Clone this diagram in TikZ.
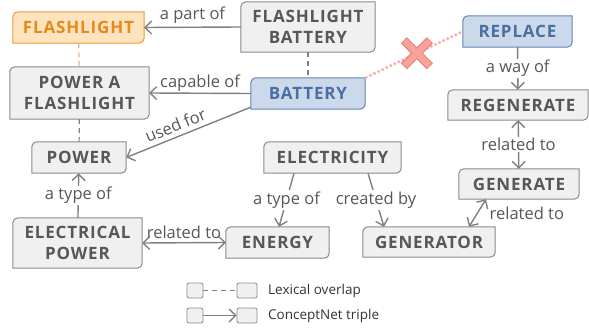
\documentclass[tikz,border=0pt]{standalone}
\usepackage{fontspec}
\setmainfont{Open Sans}
\newfontfamily\conceptfamily[LetterSpace=5]{Open Sans}
\usetikzlibrary{arrows.meta,positioning,backgrounds}

\definecolor{boxfill}{HTML}{F0F0F0}
\definecolor{boxline}{HTML}{8A8A8A}
\definecolor{txtgray}{HTML}{575757}
\definecolor{orfill}{HTML}{FDE3BE}
\definecolor{orline}{HTML}{EC9A33}
\definecolor{ortext}{HTML}{E48A1E}
\definecolor{blfill}{HTML}{CCD9EA}
\definecolor{blline}{HTML}{5F84B8}
\definecolor{bltext}{HTML}{4A6FA5}
\definecolor{edgegray}{HTML}{808080}
\definecolor{orlink}{HTML}{E3B18E}
\definecolor{pinklink}{HTML}{F7B2A6}
\definecolor{xfill}{HTML}{F8A39A}
\definecolor{xline}{HTML}{E8766B}

\tikzset{
  concept/.style={text=txtgray, font=\conceptfamily\bfseries\fontsize{17}{21}\selectfont, align=center, inner sep=0pt},
  barb/.tip={Straight Barb[length=6.5pt,width=13pt,line width=1.4pt]},
  relation/.style={draw=edgegray, line width=1.4pt, -barb},
  rel both/.style={relation, barb-barb},
  lexical/.style={draw=edgegray, line width=1.2pt, dash pattern=on 5pt off 4pt},
  rel label/.style={text=txtgray, font=\fontsize{16.5}{19}\selectfont, inner sep=1.5pt},
  cut label/.style={rel label, fill=white},
  legend box/.style={fill=boxfill, draw=boxline, line width=0.8pt, rounded corners=2pt, minimum height=15pt, inner sep=0pt},
  legend text/.style={text=black!80, font=\fontsize{13.5}{16}\selectfont, anchor=west, inner sep=0pt}
}

\begin{document}
\begin{tikzpicture}[x=1pt, y=-1pt]
\useasboundingbox (0,0) rectangle (589,329);

% concepts
\node[concept, text=ortext, minimum width=131pt, minimum height=31pt] (flashlight) at (78.5,27.5) {FLASHLIGHT};
\node[concept, minimum width=134pt, minimum height=50pt] (flbattery) at (308,27) {FLASHLIGHT\\BATTERY};
\node[concept, minimum width=139pt, minimum height=52pt] (pflash) at (79.5,93) {POWER A\\FLASHLIGHT};
\node[concept, text=bltext, minimum width=114pt, minimum height=31pt] (battery) at (308,93.5) {BATTERY};
\node[concept, text=bltext, minimum width=109pt, minimum height=31pt] (replace) at (517.5,31.5) {REPLACE};
\node[concept, minimum width=140pt, minimum height=30pt] (regenerate) at (518,105) {REGENERATE};
\node[concept, minimum width=94pt, minimum height=31pt] (power) at (79,157.5) {POWER};
\node[concept, minimum width=137pt, minimum height=31pt] (electricity) at (332.5,157.5) {ELECTRICITY};
\node[concept, minimum width=120pt, minimum height=30pt] (generate) at (519,184) {GENERATE};
\node[concept, minimum width=129pt, minimum height=50pt] (elpower) at (77.5,243) {ELECTRICAL\\POWER};
\node[concept, minimum width=103pt, minimum height=31pt] (energy) at (277.5,242.5) {ENERGY};
\node[concept, minimum width=132pt, minimum height=30pt] (generator) at (429,242) {GENERATOR};

% boxes with two rounded corners
\begin{scope}[on background layer]
\foreach \n/\f/\d in {flashlight/orfill/orline, battery/blfill/blline, replace/blfill/blline,
    flbattery/boxfill/boxline, pflash/boxfill/boxline, regenerate/boxfill/boxline,
    power/boxfill/boxline, electricity/boxfill/boxline, generate/boxfill/boxline,
    elpower/boxfill/boxline, energy/boxfill/boxline, generator/boxfill/boxline}
  \draw[fill=\f, draw=\d, line width=1pt] (\n.west) [rounded corners=5pt] |- (\n.north)
    [sharp corners] -| (\n.east) [rounded corners=5pt] |- (\n.south) [sharp corners] -| (\n.west) -- cycle;
\end{scope}

% lexical overlap
\draw[lexical, draw=orlink] (flashlight) -- (pflash);
\draw[lexical] (pflash) -- (power);
\draw[lexical] (flbattery) -- (battery);

% conceptnet triples
\draw[relation] (flbattery.west) -- node[rel label, above=2pt] {a part of} (flashlight.east);
\draw[relation] (battery.west) -- node[rel label, above=0pt] {capable of} (pflash.east);
\draw[relation] ([yshift=2pt]battery.south west) -- node[rel label, above=3pt, sloped, pos=0.57] {used for} (power.east);
\draw[relation] (elpower) -- node[cut label] {a type of} (power);
\draw[rel both] (elpower.east) -- node[rel label, above=2pt] {related to} (energy.west);
\draw[relation] ([xshift=-38.5pt]electricity.south) -- node[cut label] {a type of} ([xshift=1.5pt]energy.north);
\draw[relation] ([xshift=35.5pt]electricity.south) -- node[cut label] {created by} ([xshift=-45pt]generator.north);
\draw[rel both] ([xshift=-33pt]generate.south) -- node[rel label, anchor=west, xshift=10pt] {related to} ([xshift=40pt]generator.north);
\draw[relation] (replace) -- node[cut label] {a way of} (regenerate);
\draw[rel both] (regenerate) -- node[cut label] {related to} (generate);

% rejected link
\draw[pinklink, line width=2.5pt, dash pattern=on 2.5pt off 2pt] (battery.north east) -- coordinate[pos=0.53] (xmark) (replace.west);
\draw[xline, line width=8.5pt] ([shift={(-13,-13)}]xmark) -- ([shift={(13,13)}]xmark)
  ([shift={(-13,13)}]xmark) -- ([shift={(13,-13)}]xmark);
\draw[xfill, line width=6.5pt] ([shift={(-12.5,-12.5)}]xmark) -- ([shift={(12.5,12.5)}]xmark)
  ([shift={(-12.5,12.5)}]xmark) -- ([shift={(12.5,-12.5)}]xmark);

% legend
\node[legend box, minimum width=16pt] (lexa) at (195,290.5) {};
\node[legend box, minimum width=20pt] (lexb) at (247,290.5) {};
\node[legend box, minimum width=16pt] (cnta) at (195,315.5) {};
\node[legend box, minimum width=20pt] (cntb) at (247,315.5) {};
\draw[lexical, line width=1pt] (lexa) -- (lexb);
\draw[relation, line width=1.2pt] (cnta) -- (cntb);
\node[legend text] (lexlabel) at (268,291) {Lexical overlap};
\node[legend text] (cntlabel) at (268,316) {ConceptNet triple};
\end{tikzpicture}
\end{document}
